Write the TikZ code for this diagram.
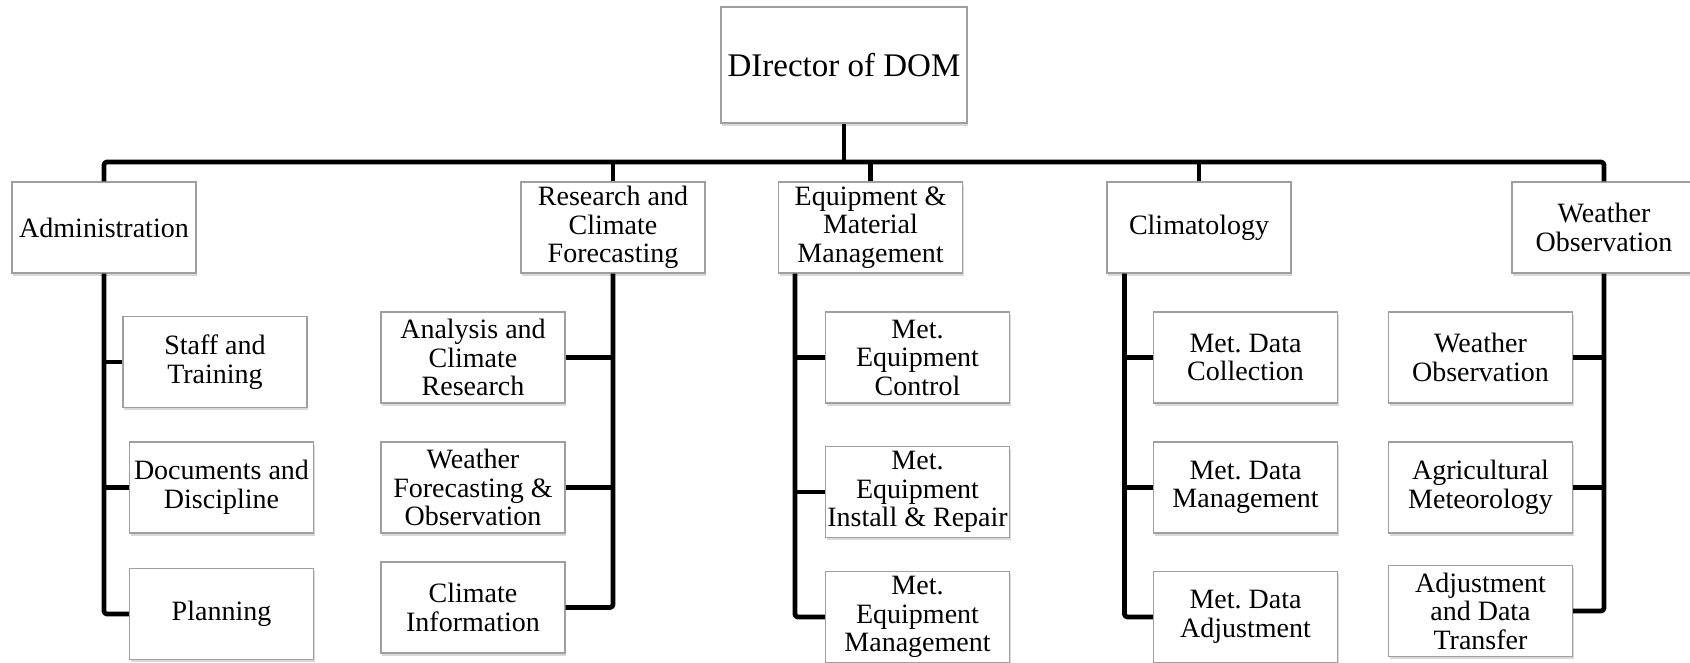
\documentclass[tikz,border=0pt]{standalone}
\usepackage{fontspec}
\setmainfont{Liberation Serif}
\usetikzlibrary{positioning,shadows}
\frenchspacing
\tikzset{
  unit/.style={draw=gray!75, line width=0.6pt, fill=white, minimum width=92pt,
    minimum height=45.5pt, align=center, inner sep=0.5pt,
    font=\fontsize{14}{14.25}\selectfont,
    drop shadow={shadow xshift=0.6pt, shadow yshift=-1.4pt, opacity=0.3}},
  head/.style={unit, minimum width=123pt, minimum height=58pt,
    font=\fontsize{16.5}{18}\selectfont},
  link/.style={line width=2.4pt, line join=round, rounded corners=1.5pt}
}

\begin{document}
\begin{tikzpicture}[x=0.5pt,y=-0.5pt]
\useasboundingbox (0,0) rectangle (1690,663);
\node[head] (dir) at (844,65) {DIrector of DOM};
\node[unit] (adm) at (104,227.5) {Administration};
\node[unit] (res) at (613,227.5) {Research and\\Climate\\Forecasting};
\node[unit] (equ) at (870.5,227.5) {Equipment \&\\Material\\Management};
\node[unit] (cli) at (1199,227.5) {Climatology};
\node[unit] (wea) at (1604,227.5) {Weather\\Observation};
% administration
\node[unit] (staff) at (215,362) {Staff and\\Training};
\node[unit] (docs) at (221.5,487.5) {Documents and\\Discipline};
\node[unit] (plan) at (221.5,614) {Planning};
% research
\node[unit] (ana) at (473,357.5) {Analysis and\\Climate\\Research};
\node[unit] (wfo) at (473,487.5) {Weather\\Forecasting \&\\Observation};
\node[unit] (cin) at (473,607.5) {Climate\\Information};
% equipment
\node[unit] (mec) at (917.5,357.5) {Met.\\Equipment\\Control};
\node[unit] (mei) at (917.5,492) {Met.\\Equipment\\Install \& Repair};
\node[unit] (mem) at (917.5,617) {Met.\\Equipment\\Management};
% climatology
\node[unit] (mdc) at (1245.5,357.5) {Met. Data\\Collection};
\node[unit] (mdm) at (1245.5,487.5) {Met. Data\\Management};
\node[unit] (mda) at (1245.5,617) {Met. Data\\Adjustment};
% weather
\node[unit] (wob) at (1480.5,357.5) {Weather\\Observation};
\node[unit] (agm) at (1480.5,487.5) {Agricultural\\Meteorology};
\node[unit] (adt) at (1480.5,611) {Adjustment\\and Data\\Transfer};

\coordinate (bus) at (844,162);
\coordinate (equstem) at ([xshift=8.5pt]equ.south west);
\coordinate (clistem) at ([xshift=9pt]cli.south west);
\draw[link] (dir.south) -- (bus);
\draw[link] (adm.north) |- (bus) -| (wea.north);
\foreach \n in {res,equ,cli}
  \draw[link] (\n.north) -- (\n.north |- bus);

\draw[link] (adm.south) |- (plan.west);
\foreach \n in {staff,docs}
  \draw[link] (adm.south |- \n.west) -- (\n.west);
\draw[link] (res.south) |- (cin.east);
\foreach \n in {ana,wfo}
  \draw[link] (res.south |- \n.east) -- (\n.east);
\draw[link] (equstem) |- (mem.west);
\foreach \n in {mec,mei}
  \draw[link] (equstem |- \n.west) -- (\n.west);
\draw[link] (clistem) |- (mda.west);
\foreach \n in {mdc,mdm}
  \draw[link] (clistem |- \n.west) -- (\n.west);
\draw[link] (wea.south) |- (adt.east);
\foreach \n in {wob,agm}
  \draw[link] (wea.south |- \n.east) -- (\n.east);
\end{tikzpicture}
\end{document}
